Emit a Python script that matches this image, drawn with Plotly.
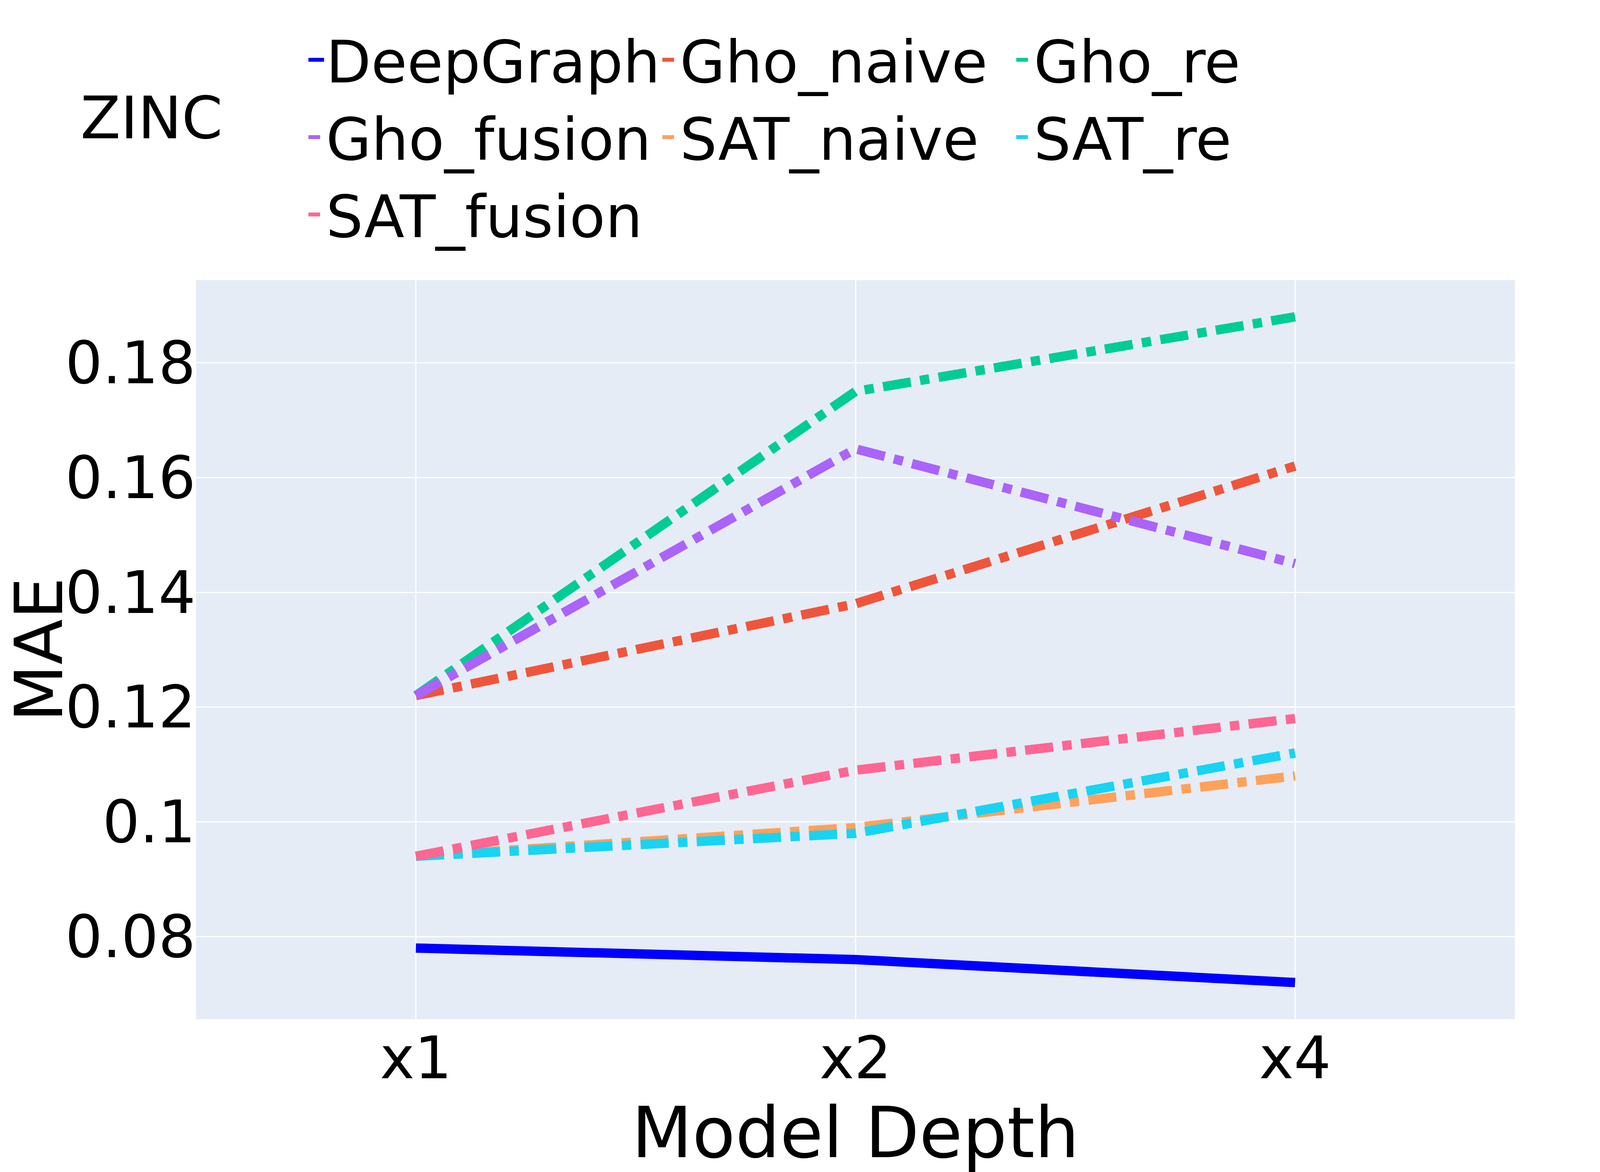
import plotly.graph_objects as go

depths = ["x1", "x2", "x4"]
series_names = ["DeepGraph", "Gho_naive", "Gho_re", "Gho_fusion", "SAT_naive", "SAT_re", "SAT_fusion"]
deepgraph = [0.078, 0.076, 0.072]
gho_naive = [0.122, 0.138, 0.162]
gho_re = [0.122, 0.175, 0.188]
gho_fusion = [0.122, 0.165, 0.145]
sat_naive = [0.094, 0.099, 0.108]
sat_re = [0.094, 0.098, 0.112]
sat_fusion = [0.094, 0.109, 0.118]
series_values = [deepgraph, gho_naive, gho_re, gho_fusion, sat_naive, sat_re, sat_fusion]
colors = ["#0000FF", "#EF553B", "#00CC96", "#AB63FA", "#FFA15A", "#19D3F3", "#FF6692"]
dashes = ["solid", "dashdot", "dashdot", "dashdot", "dashdot", "dashdot", "dashdot"]
dataset_label = "ZINC"
x_title = "Model Depth"
y_title = "MAE"

S = 3  # scale factor
FONT = "DejaVu Sans"

fig = go.Figure()
for name, vals, col, dash in zip(series_names, series_values, colors, dashes):
    fig.add_trace(go.Scatter(x=depths, y=vals, mode="lines", name=name,
                             line=dict(color=col, width=8 * S, dash=dash)))

fig.update_layout(
    height=1000 * S,
    template="plotly",
    font=dict(family=FONT, size=50 * S, color="black"),
    margin=dict(l=494, r=210, t=709, b=399, autoexpand=False),
    legend=dict(orientation="h", x=0.0837, xanchor="left", y=1.3531, yanchor="top",
                font=dict(size=50 * S), itemwidth=40, entrywidth=851,
                entrywidthmode="pixels"),
    xaxis=dict(title=dict(text=x_title, font=dict(size=60 * S)),
               range=[-0.5, 2.5], gridwidth=S,
               tickfont=dict(size=50 * S)),
    yaxis=dict(range=[0.0656, 0.1944], dtick=0.02, gridwidth=S,
               tickfont=dict(size=50 * S)),
    annotations=[
        dict(text=dataset_label, xref="paper", yref="paper",
             x=-0.0883, y=1.2193, xanchor="left", yanchor="middle",
             showarrow=False, font=dict(size=50 * S)),
        dict(text=y_title, xref="paper", yref="paper",
             x=-0.1191, y=0.5, xanchor="center", yanchor="middle", textangle=-90,
             showarrow=False, font=dict(size=170)),
    ],
)

fig.write_html("out.html")
